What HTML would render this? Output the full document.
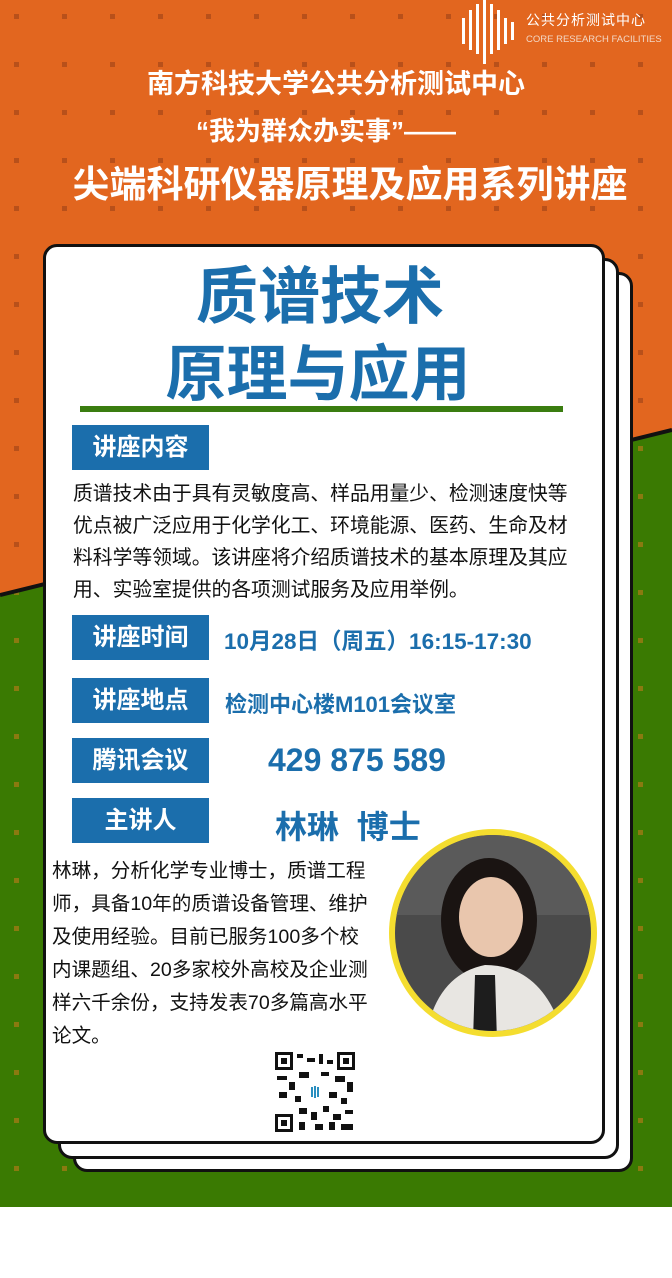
<!DOCTYPE html>
<html><head><meta charset="utf-8">
<style>
*{margin:0;padding:0;box-sizing:border-box}
body{width:672px;height:1278px;position:relative;overflow:hidden;background:#fff;font-family:"Liberation Sans","Noto Sans CJK SC",sans-serif}
.abs{position:absolute}
.card{position:absolute;background:#fff;border:3px solid #111;border-radius:14px}
.lbl{position:absolute;left:72px;width:137px;height:45px;background:#1b6eac;color:#fff;font-size:24px;font-weight:bold;text-align:center;line-height:45px}
.val{position:absolute;color:#1b6eac;font-weight:bold;white-space:nowrap}
.wt{position:absolute;color:#fff;font-weight:bold;white-space:nowrap;text-align:center;left:0;width:672px}
</style></head><body>
<svg class="abs" style="left:0;top:0" width="672" height="1278">
<defs>
<pattern id="dots" x="14" y="14" width="48" height="48" patternUnits="userSpaceOnUse"><rect x="0" y="0" width="5" height="5" fill="#b8501a"/></pattern>
<pattern id="dots2" x="14" y="14" width="48" height="48" patternUnits="userSpaceOnUse"><rect x="0" y="0" width="5" height="5" fill="#8a7a10"/></pattern>
</defs>
<rect x="0" y="0" width="672" height="1207" fill="#e2661f"/>
<rect x="0" y="0" width="672" height="1207" fill="url(#dots)"/>
<polygon points="0,595 672,430 672,1207 0,1207" fill="#3a7a02"/>
<polygon points="0,595 672,430 672,1207 0,1207" fill="url(#dots2)"/>
<line x1="0" y1="595" x2="672" y2="430" stroke="#111" stroke-width="4"/>
</svg>
<div>
<svg class="abs" style="left:460px;top:0" width="60" height="64">
<g fill="#fff"><rect x="2" y="18" width="3" height="26"/><rect x="9" y="10" width="3" height="40"/><rect x="16" y="4" width="3" height="50"/><rect x="23" y="0" width="3" height="64"/><rect x="30" y="4" width="3" height="50"/><rect x="37" y="10" width="3" height="40"/><rect x="44" y="18" width="3" height="26"/><rect x="51" y="22" width="3" height="18"/></g></svg>
<div class="abs" style="left:526px;top:10px;color:#fff;font-size:14px;letter-spacing:1px">公共分析测试中心</div>
<div class="abs" style="left:526px;top:34px;color:#f3d7c5;font-size:9.5px">CORE RESEARCH FACILITIES</div>
</div>
<div class="wt" style="top:62px;font-size:27px">南方科技大学公共分析测试中心</div>
<div class="wt" style="top:111px;font-size:26px;left:-10px">“我为群众办实事”——</div>
<div class="wt" style="top:154px;font-size:37px;left:14px">尖端科研仪器原理及应用系列讲座</div>

<div class="card" style="left:73px;top:272px;width:560px;height:900px"></div>
<div class="card" style="left:58px;top:258px;width:561px;height:901px"></div>
<div class="card" style="left:43px;top:244px;width:562px;height:900px"></div>

<div class="val" style="left:0;width:640px;text-align:center;top:246px;font-size:62px">质谱技术</div>
<div class="val" style="left:0;width:636px;text-align:center;top:324px;font-size:61px">原理与应用</div>
<div class="abs" style="left:80px;top:406px;width:483px;height:6px;background:#3a7d10"></div>

<div class="lbl" style="top:425px">讲座内容</div>
<div class="abs" style="left:73px;top:478px;width:510px;font-size:19.8px;line-height:32px;color:#111">质谱技术由于具有灵敏度高、样品用量少、检测速度快等优点被广泛应用于化学化工、环境能源、医药、生命及材料科学等领域。该讲座将介绍质谱技术的基本原理及其应用、实验室提供的各项测试服务及应用举例。</div>

<div class="lbl" style="top:615px">讲座时间</div>
<div class="val" style="left:224px;top:624px;font-size:22.5px">10月28日（周五）16:15-17:30</div>
<div class="lbl" style="top:678px">讲座地点</div>
<div class="val" style="left:225px;top:687px;font-size:22px">检测中心楼M101会议室</div>
<div class="lbl" style="top:738px">腾讯会议</div>
<div class="val" style="left:268px;top:742px;font-size:32px">429 875 589</div>
<div class="lbl" style="top:798px">主讲人</div>
<div class="val" style="left:275px;top:802px;font-size:32px">林琳&nbsp;&nbsp;博士</div>

<div class="abs" style="left:52px;top:855px;width:324px;font-size:19.6px;line-height:33px;color:#111">林琳，分析化学专业博士，质谱工程师，具备10年的质谱设备管理、维护及使用经验。目前已服务100多个校<br>内课题组、20多家校外高校及企业测<br>样六千余份，支持发表70多篇高水平<br>论文。</div>

<svg class="abs" style="left:385px;top:825px" width="216" height="216">
<defs><clipPath id="cp"><circle cx="108" cy="108" r="98"/></clipPath></defs>
<circle cx="108" cy="108" r="104" fill="#f4dd2f"/>
<g clip-path="url(#cp)">
<rect width="216" height="216" fill="#4a4a4a"/>
<rect x="0" y="0" width="216" height="90" fill="#5a5a5a"/>
<ellipse cx="104" cy="95" rx="48" ry="62" fill="#1a1412"/>
<ellipse cx="106" cy="92" rx="32" ry="40" fill="#e9c6ad"/>
<path d="M40 216 Q50 150 100 140 Q160 140 180 216 Z" fill="#e8e6e2"/>
<path d="M90 150 L110 150 L112 216 L88 216 Z" fill="#1d1d1d"/>
</g>
</svg>

<svg class="abs" style="left:275px;top:1052px" width="80" height="80">
<rect width="80" height="80" fill="#fff"/>
<g fill="#111">
<rect x="0" y="0" width="18" height="18"/><rect x="62" y="0" width="18" height="18"/><rect x="0" y="62" width="18" height="18"/>
</g>
<g fill="#fff"><rect x="3" y="3" width="12" height="12"/><rect x="65" y="3" width="12" height="12"/><rect x="3" y="65" width="12" height="12"/></g>
<g fill="#111"><rect x="6" y="6" width="6" height="6"/><rect x="68" y="6" width="6" height="6"/><rect x="6" y="68" width="6" height="6"/>
<rect x="22" y="2" width="6" height="4"/><rect x="32" y="6" width="8" height="4"/><rect x="44" y="2" width="4" height="10"/><rect x="52" y="8" width="6" height="4"/>
<rect x="2" y="24" width="10" height="4"/><rect x="14" y="30" width="6" height="8"/><rect x="24" y="20" width="10" height="6"/><rect x="46" y="20" width="8" height="4"/><rect x="60" y="24" width="10" height="6"/><rect x="72" y="30" width="6" height="10"/>
<rect x="4" y="40" width="8" height="6"/><rect x="20" y="44" width="6" height="6"/><rect x="54" y="40" width="8" height="6"/><rect x="66" y="46" width="6" height="6"/>
<rect x="24" y="56" width="8" height="6"/><rect x="36" y="60" width="6" height="8"/><rect x="48" y="54" width="6" height="6"/><rect x="58" y="62" width="8" height="6"/><rect x="70" y="58" width="8" height="4"/>
<rect x="24" y="70" width="6" height="8"/><rect x="40" y="72" width="8" height="6"/><rect x="54" y="70" width="6" height="8"/><rect x="66" y="72" width="12" height="6"/>
</g>
<rect x="32" y="32" width="16" height="16" fill="#fff"/>
<g fill="#2a8fc0"><rect x="36" y="35" width="2" height="10"/><rect x="39" y="34" width="2" height="12"/><rect x="42" y="35" width="2" height="10"/></g>
</svg>
</body></html>
